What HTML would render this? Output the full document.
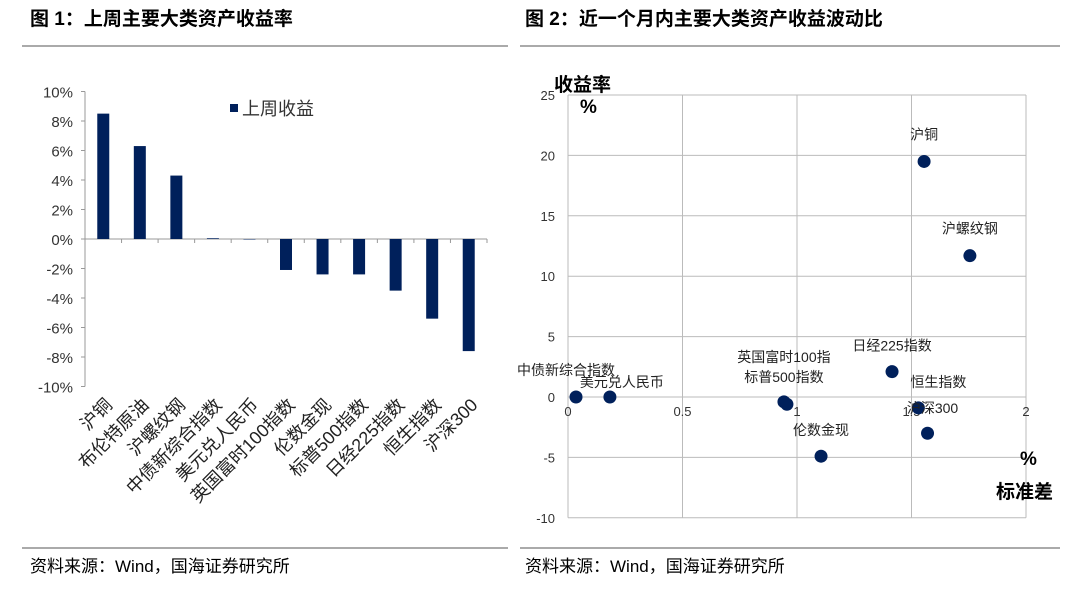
<!DOCTYPE html>
<html><head><meta charset="utf-8"><style>
body{margin:0;background:#fff;width:1080px;height:588px;overflow:hidden;font-family:"Liberation Sans","Noto Sans CJK SC",sans-serif;}
svg text{font-family:"Liberation Sans","Noto Sans CJK SC",sans-serif;}
</style></head><body>
<svg width="1080" height="588" xmlns="http://www.w3.org/2000/svg">
<text x="30" y="25" font-size="19" font-weight="bold" fill="#000">图 1：上周主要大类资产收益率</text>
<text x="525" y="25" font-size="19" font-weight="bold" fill="#000">图 2：近一个月内主要大类资产收益波动比</text>
<line x1="22" y1="46" x2="508" y2="46" stroke="#555"/>
<line x1="520" y1="46" x2="1060" y2="46" stroke="#555"/>
<line x1="22" y1="548" x2="508" y2="548" stroke="#555"/>
<line x1="520" y1="548" x2="1060" y2="548" stroke="#555"/>
<text x="30" y="572" font-size="17">资料来源：Wind，国海证券研究所</text>
<text x="525" y="572" font-size="17">资料来源：Wind，国海证券研究所</text>
<g id="bar"></g>
<g id="sc"></g>
</svg>
<script>
const barCats=["沪铜","布伦特原油","沪螺纹钢","中债新综合指数","美元兑人民币","英国富时100指数","伦数金现","标普500指数","日经225指数","恒生指数","沪深300"];
const barVals=[8.5,6.3,4.3,0.05,0,-2.1,-2.4,-2.4,-3.5,-5.4,-7.6];
const barTicks=[10,8,6,4,2,0,-2,-4,-6,-8,-10];
const scNames=["沪铜","沪螺纹钢","中债新综合指数","美元兑人民币","英国富时100指数","标普500指数","伦数金现","日经225指数","恒生指数","沪深300"];
const scX=[1.555,1.755,0.035,0.183,0.943,0.956,1.105,1.415,1.53,1.57];
const scY=[19.5,11.7,0,0,-0.4,-0.6,-4.9,2.1,-0.9,-3.0];
const scXTicks=[0,0.5,1,1.5,2];
const scYTicks=[25,20,15,10,5,0,-5,-10];
const NS="http://www.w3.org/2000/svg";
function mk(p,t,a,txt){const e=document.createElementNS(NS,t);for(const k in a)e.setAttribute(k,a[k]);if(txt!==undefined)e.textContent=txt;p.appendChild(e);return e;}
const bg=document.getElementById('bar');
const bx0=85,bx1=487,by=v=>239-v*14.75;
const bw=(bx1-bx0)/barCats.length;
mk(bg,'line',{x1:bx0,y1:by(10),x2:bx0,y2:by(-10),stroke:'#999'});
barTicks.forEach(t=>{
 const l=mk(bg,'line',{x1:bx0-4,y1:by(t),x2:bx0,y2:by(t),stroke:'#999'});
 
 
 const tx=mk(bg,'text',{x:bx0-12,y:by(t)+6,'font-size':15,'text-anchor':'end',fill:'#333'},t+'%');
 
 
});
mk(bg,'line',{x1:bx0,y1:by(0),x2:bx1,y2:by(0),stroke:'#999'});
barCats.forEach((c,i)=>{
 const cx=bx0+bw*(i+0.5),v=barVals[i];
 mk(bg,'line',{x1:bx0+bw*(i+1),y1:by(0),x2:bx0+bw*(i+1),y2:by(0)+4,stroke:'#999'});
 const r=mk(bg,'rect',{x:cx-6,y:Math.min(by(v),by(0)),width:12,height:Math.max(Math.abs(by(v)-by(0)),0.5),fill:'#00205b'});
 
 
 const t=mk(bg,'text',{x:cx+10,y:406,'font-size':18,'text-anchor':'end',transform:`rotate(-45 ${cx+10} 406)`,fill:'#222'},c);
 
 
});
const lg=mk(bg,'rect',{x:230,y:104,width:8,height:8,fill:'#00205b'});


const lt=mk(bg,'text',{x:242,y:115,'font-size':18,fill:'#333'},'上周收益');


const sg=document.getElementById('sc');
const sx0=568,sx1=1026,sx=v=>sx0+v*(sx1-sx0)/2,sy=v=>397-v*12.08;
scXTicks.forEach(t=>{
 mk(sg,'line',{x1:sx(t),y1:sy(25),x2:sx(t),y2:sy(-10),stroke:'#bbb'});
 const tx=mk(sg,'text',{x:sx(t),y:416,'font-size':13,'text-anchor':'middle',fill:'#333'},String(t));
 
 
});
scYTicks.forEach(t=>{
 mk(sg,'line',{x1:sx0,y1:sy(t),x2:sx1,y2:sy(t),stroke:'#bbb'});
 const tx=mk(sg,'text',{x:555,y:sy(t)+5,'font-size':13,'text-anchor':'end',fill:'#333'},String(t));
 
 
});
const lblOff={"沪铜":[0,-22],"沪螺纹钢":[0,-22],"中债新综合指数":[-10,-22],"美元兑人民币":[12,-10],"英国富时100指数":[0,-40],"标普500指数":[-3,-22],"伦数金现":[0,-21],"日经225指数":[0,-21],"恒生指数":[20,-21],"沪深300":[5,-20]};
scNames.forEach((n,i)=>{
 const c=mk(sg,'circle',{cx:sx(scX[i]),cy:sy(scY[i]),r:6.5,fill:'#00205b'});
 
 
 const o=lblOff[n]||[0,-20];
 let label=n==="英国富时100指数"?"英国富时100指":n;
 const t=mk(sg,'text',{x:sx(scX[i])+o[0],y:sy(scY[i])+o[1],'font-size':14,'text-anchor':'middle',fill:'#222'},label);
 
 
});
[['收益率',554,91,19],['%',580,113,19],['%',1020,465,19],['标准差',996,498,19]].forEach(a=>{
 const t=mk(sg,'text',{x:a[1],y:a[2],'font-size':a[3],'font-weight':'bold',fill:'#000'},a[0]);
 
 
});
</script>
</body></html>
